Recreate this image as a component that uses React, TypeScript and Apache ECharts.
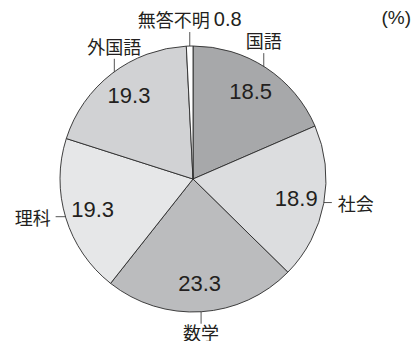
import React, { useEffect, useRef } from "react";
import * as echarts from "echarts";

const categories = ["国語", "社会", "数学", "理科", "外国語", "無答不明"];
const values = [18.5, 18.9, 23.3, 19.3, 19.3, 0.8];
const colors = ["#a7a8aa", "#dcdddf", "#bbbcbe", "#e6e7e8", "#d1d2d4", "#ffffff"];
const labelSides = ["up", "right", "down", "left", "up", "up"];
const unitLabel = "(%)";

const FONT = "'Noto Sans CJK JP', 'Noto Sans', sans-serif";
const NUMFONT = "'Liberation Sans', Arial, sans-serif";
const TEXT = "#231f20";
const CENTER = [193, 179];

export default function App() {
  const ref = useRef<HTMLDivElement>(null);
  useEffect(() => {
    if (!ref.current) return;
    const chart = echarts.init(ref.current, null, { renderer: "svg" });
    const data = categories.map((name, i) => ({
      name,
      value: values[i],
      itemStyle: { color: colors[i] },
    }));
    chart.setOption({
      animation: false,
      graphic: [
        {
          type: "text",
          right: 8,
          top: 8,
          style: { text: unitLabel, font: `19px ${NUMFONT}`, fill: TEXT },
        },
      ],
      series: [
        {
          type: "pie",
          center: CENTER,
          radius: [0, 133],
          startAngle: 90,
          clockwise: true,
          silent: true,
          data,
          itemStyle: { borderColor: "#2b2b2b", borderWidth: 0.9 },
          label: {
            show: true,
            position: "outside",
            overflow: "none",
            fontFamily: FONT,
            fontSize: 18,
            lineHeight: 18,
            color: TEXT,
            formatter: (p: any) =>
              p.dataIndex === categories.length - 1
                ? `{a|${p.name}} {n|${p.value}}`
                : p.name,
            rich: {
              a: { fontFamily: FONT, fontSize: 18, lineHeight: 18, color: TEXT },
              n: { fontFamily: NUMFONT, fontSize: 20, lineHeight: 18, color: TEXT },
            },
          },
          labelLine: { show: true, lineStyle: { color: "#555", width: 1 }, length: 10, length2: 10 },
          labelLayout: (p: any) => {
            const pts = p.labelLinePoints;
            if (!pts) return {};
            const edge = pts[0];
            const dx = edge[0] - CENTER[0];
            const dy = edge[1] - CENTER[1];
            const d = Math.sqrt(dx * dx + dy * dy) || 1;
            const s = [edge[0] - (dx / d) * 4, edge[1] - (dy / d) * 4];
            const side = labelSides[p.dataIndex];
            let e: number[];
            let x: number, y: number, align: string;
            if (side === "up") {
              e = [s[0], s[1] - 18];
              x = e[0]; y = e[1] - 13; align = "center";
            } else if (side === "down") {
              e = [s[0], s[1] + 16];
              x = e[0]; y = e[1] + 8; align = "center";
            } else if (side === "right") {
              e = [s[0] + 12, s[1]];
              x = e[0] + 6; y = e[1]; align = "left";
            } else {
              e = [s[0] - 14, s[1]];
              x = e[0] - 5; y = e[1]; align = "right";
            }
            return { x, y, align, verticalAlign: "middle", labelLinePoints: [s, e, e] };
          },
        },
        {
          type: "pie",
          center: CENTER,
          radius: [80, 124],
          startAngle: 90,
          clockwise: true,
          silent: true,
          data: data.map((d) => ({ ...d, itemStyle: { color: "transparent" } })),
          itemStyle: { borderWidth: 0 },
          label: {
            show: true,
            position: "inside",
            fontFamily: NUMFONT,
            fontSize: 22,
            color: TEXT,
            formatter: (p: any) => (p.dataIndex === categories.length - 1 ? "" : String(p.value)),
          },
          labelLine: { show: false },
        },
      ],
    });
    return () => chart.dispose();
  }, []);
  return <div ref={ref} style={{ width: 419, height: 349, margin: -8 }} />;
}
